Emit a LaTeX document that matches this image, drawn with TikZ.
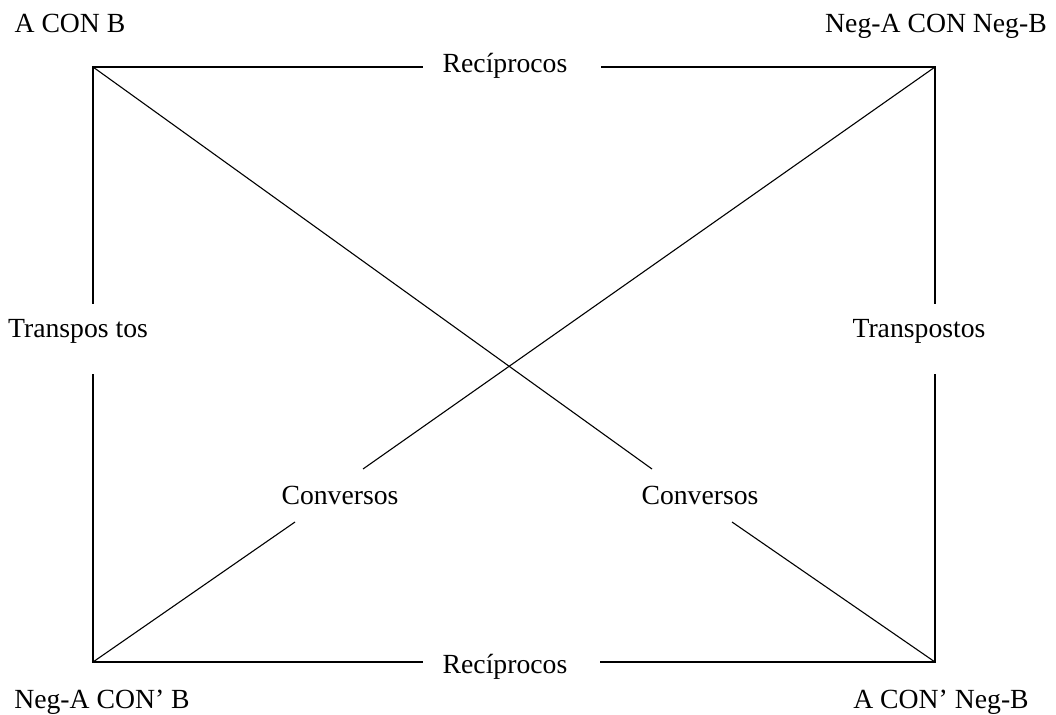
\documentclass[tikz,border=0pt]{standalone}
\usepackage{fontspec}
\setmainfont{Liberation Serif}
\begin{document}
\begin{tikzpicture}[x=1pt,y=-1pt,
  lbl/.style={inner sep=0pt,anchor=base,font=\fontsize{27.7}{30}\selectfont},
  frame/.style={line width=1.7pt,line cap=rect},
  diag/.style={line width=1.1pt}]
\useasboundingbox[fill=white] (0,0) rectangle (1056,714);
% corners
\coordinate (TL) at (93,67);
\coordinate (TR) at (935,67);
\coordinate (BL) at (93,662);
\coordinate (BR) at (935,662);
% labels
\node[lbl] (ab) at (70,33) {A CON B};
\node[lbl] (nanb) at (936,33) {Neg-A CON Neg-B};
\node[lbl] (rtop) at (505,73) {Recíprocos};
\node[lbl] (rbot) at (505,673) {Recíprocos};
\node[lbl] (tl) at (78,337) {Transpos tos};
\node[lbl] (tr) at (919,337) {Transpostos};
\node[lbl] (cl) at (340,504) {Conversos};
\node[lbl] (cr) at (700,504) {Conversos};
\node[lbl] (nab) at (102,708) {Neg-A CON’ B};
\node[lbl] (anb) at (941,708) {A CON’ Neg-B};
% segment ends
\coordinate (t1) at (422,67);
\coordinate (t2) at (602,67);
\coordinate (b1) at (422,662);
\coordinate (b2) at (601,662);
\coordinate (l1) at (93,303);
\coordinate (l2) at (93,375);
\coordinate (r1) at (935,303);
\coordinate (r2) at (935,375);
\coordinate (d1) at (652,469);
\coordinate (d2) at (732,522);
\coordinate (e1) at (363,469);
\coordinate (e2) at (295,522);
% frame
\draw[frame] (TL) -- (t1);
\draw[frame] (t2) -- (TR);
\draw[frame] (BL) -- (b1);
\draw[frame] (b2) -- (BR);
\draw[frame] (TL) -- (l1);
\draw[frame] (l2) -- (BL);
\draw[frame] (TR) -- (r1);
\draw[frame] (r2) -- (BR);
% diagonals
\draw[diag] (TL) -- (d1);
\draw[diag] (d2) -- (BR);
\draw[diag] (TR) -- (e1);
\draw[diag] (e2) -- (BL);
\end{tikzpicture}
\end{document}
